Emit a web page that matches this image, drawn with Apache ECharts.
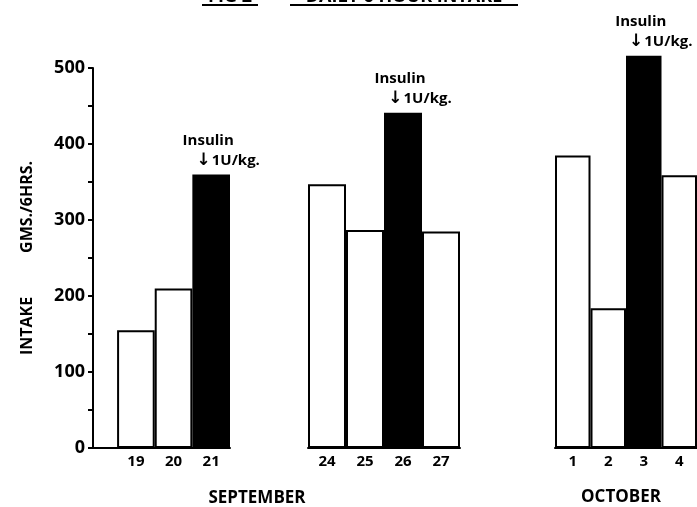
<!DOCTYPE html>
<html><head><meta charset="utf-8">
<script src="https://cdn.jsdelivr.net/npm/echarts@6/dist/echarts.min.js"></script>
<style>html,body{margin:0;padding:0;background:#fff}#c{width:697px;height:507px}</style>
</head><body><div id="c"></div>
<script>
const FONT = '"Open Sans", "DejaVu Sans", sans-serif';

// Data (grams per 6 hours)
const sepDaysA = [19, 20, 21];
const sepValuesA = [155, 210, 360];
const sepDaysB = [24, 25, 26, 27];
const sepValuesB = [347, 287, 441, 285];
const octDays = [1, 2, 3, 4];
const octValues = [385, 184, 516, 359];
const insulinDays = [21, 26, 3];          // day of insulin injection in each group
const monthNames = ['SEPTEMBER', 'OCTOBER'];
const figTitle = ['FIG 2', 'DAILY 6 HOUR INTAKE'];
const yAxisName = ['INTAKE', 'GMS./6HRS.'];
const insulinText = ['Insulin', '\u2193', '1U/kg.'];

function items(days, values, insDay) {
  return days.map((d, i) => ({
    value: [d, values[i]],
    itemStyle: { color: d === insDay ? '#000' : '#fff' },
    label: { show: d === insDay }
  }));
}

const groups = [
  { days: sepDaysA, values: sepValuesA, ins: insulinDays[0], min: 17.86, max: 21.5 },
  { days: sepDaysB, values: sepValuesB, ins: insulinDays[1], min: 23.5, max: 27.5 },
  { days: octDays, values: octValues, ins: insulinDays[2], min: 0.5, max: 4.5 }
];

const grids = [
  { left: 93, top: 68, width: 137, height: 380 },
  { left: 308, top: 68, width: 152, height: 380 },
  { left: 555, top: 68, width: 155, height: 380 }
];

const labelRich = {
  a: { fontFamily: FONT, fontWeight: 'bold', fontSize: 15, color: '#000', padding: [0, 26, 0, 0], lineHeight: 20 },
  c: { fontFamily: '"DejaVu Sans", sans-serif', fontWeight: 'bold', fontSize: 17, color: '#000', padding: [0, 1, 0, 14], lineHeight: 20 },
  b: { fontFamily: FONT, fontWeight: 'bold', fontSize: 15, color: '#000', lineHeight: 20 }
};

const xAxes = groups.map((g, i) => ({
  type: 'value', gridIndex: i, min: g.min, max: g.max,
  axisLine: { show: true, onZero: false, lineStyle: { color: '#000', width: 2 } },
  axisTick: { show: false },
  splitLine: { show: false },
  axisLabel: { customValues: g.days, color: '#000', fontFamily: FONT, fontWeight: 'bold', fontSize: 15, margin: 6 }
}));

const yAxes = groups.map((g, i) => (i === 0 ? {
  type: 'value', gridIndex: 0, min: 0, max: 500, interval: 100,
  axisLine: { show: true, onZero: false, lineStyle: { color: '#000', width: 2 } },
  axisTick: { show: true, length: 5, lineStyle: { color: '#000', width: 2 } },
  minorTick: { show: true, splitNumber: 2, length: 5, lineStyle: { color: '#000', width: 2 } },
  splitLine: { show: false },
  minorSplitLine: { show: false },
  axisLabel: { color: '#000', fontFamily: FONT, fontWeight: 'bold', fontSize: 18, margin: 8 },
  name: '{a|' + yAxisName[0] + '}{b|' + yAxisName[1] + '}',
  nameLocation: 'middle', nameGap: 58, nameRotate: 90,
  nameTextStyle: {
    rich: {
      a: { fontFamily: FONT, fontWeight: 'bold', fontSize: 16, color: '#000' },
      b: { fontFamily: FONT, fontWeight: 'bold', fontSize: 16, color: '#000', padding: [0, 0, 0, 44] }
    }
  }
} : { type: 'value', gridIndex: i, min: 0, max: 500, show: false }));

const series = groups.map((g, i) => ({
  type: 'bar', xAxisIndex: i, yAxisIndex: i,
  data: items(g.days, g.values, g.ins),
  barWidth: '100%', clip: false, silent: true,
  itemStyle: { borderColor: '#000', borderWidth: 2 },
  label: {
    position: 'top', distance: 4, offset: [10, 0],
    formatter: '{a|' + insulinText[0] + '}\n{c|' + insulinText[1] + '}{b|' + insulinText[2] + '}',
    rich: labelRich
  }
}));

const textFont = 'bold 17px ' + FONT;
const option = {
  backgroundColor: '#fff',
  animation: false,
  grid: grids,
  xAxis: xAxes,
  yAxis: yAxes,
  series: series,
  graphic: [
    { type: 'text', x: 257, y: 498, style: { text: monthNames[0], font: textFont, fill: '#000', align: 'center', verticalAlign: 'middle' } },
    { type: 'text', x: 621, y: 497, style: { text: monthNames[1], font: textFont, fill: '#000', align: 'center', verticalAlign: 'middle' } },
    { type: 'text', x: 230, y: 6, style: { text: figTitle[0], font: 'bold 18px ' + FONT, fill: '#000', align: 'center', verticalAlign: 'bottom' } },
    { type: 'text', x: 404, y: 6, style: { text: figTitle[1], font: 'bold 18px ' + FONT, fill: '#000', align: 'center', verticalAlign: 'bottom' } },
    { type: 'rect', shape: { x: 202, y: 4, width: 56, height: 2 }, style: { fill: '#000' } },
    { type: 'rect', shape: { x: 290, y: 4, width: 228, height: 2 }, style: { fill: '#000' } }
  ]
};

const chart = echarts.init(document.getElementById('c'), null, { renderer: 'canvas' });
chart.setOption(option);
</script>
</body></html>
